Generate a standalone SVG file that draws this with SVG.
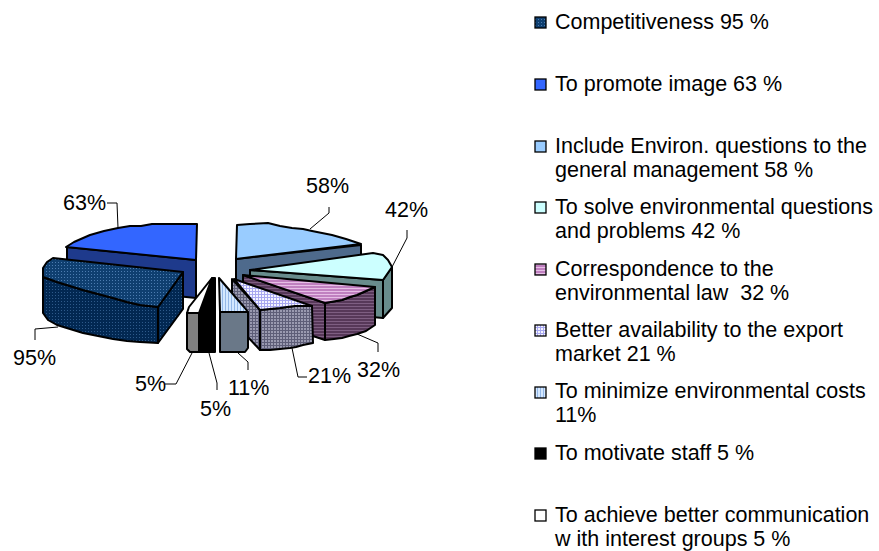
<svg xmlns="http://www.w3.org/2000/svg" width="879" height="551" viewBox="0 0 879 551">
<style>
text{font-family:"Liberation Sans",Arial,sans-serif;font-size:21.5px;fill:#000;white-space:pre}
.s{stroke:#000;stroke-width:2;stroke-linejoin:round}
.l{fill:none;stroke:#000;stroke-width:1}
.k{stroke:#000;stroke-width:1.3}
</style>
<defs>
<pattern id="dotT" width="3" height="3" patternUnits="userSpaceOnUse"><rect width="3" height="3" fill="#0F3F70"/><rect x="1" y="1" width="1" height="1" fill="#4C7CB0"/></pattern>
<pattern id="dotS" width="3" height="3" patternUnits="userSpaceOnUse"><rect width="3" height="3" fill="#022852"/><rect x="1" y="1" width="1" height="1" fill="#2E5A8A"/></pattern>
<pattern id="strT" width="3" height="3" patternUnits="userSpaceOnUse"><rect width="3" height="3" fill="#C080C0"/><rect y="0" width="3" height="1" fill="#E6BEE6"/></pattern>
<pattern id="strS" width="3" height="3" patternUnits="userSpaceOnUse"><rect width="3" height="3" fill="#573859"/><rect y="0" width="3" height="1" fill="#7E5E82"/></pattern>
<pattern id="grdT" width="3" height="3" patternUnits="userSpaceOnUse"><rect width="3" height="3" fill="#F4F4FF"/><rect width="3" height="1" fill="#A8A8F0"/><rect width="1" height="3" fill="#A8A8F0"/></pattern>
<pattern id="grdS" width="3" height="3" patternUnits="userSpaceOnUse"><rect width="3" height="3" fill="#9A9AB0"/><rect width="3" height="1" fill="#5E5E78"/><rect width="1" height="3" fill="#5E5E78"/></pattern>
<pattern id="vstT" width="3" height="3" patternUnits="userSpaceOnUse"><rect width="3" height="3" fill="#D4E8FF"/><rect width="1" height="3" fill="#94B8E8"/></pattern>
</defs>

<g id="slice-63">
<path class="s" fill="#1E3A8C" d="M67,247 L196,260 L196,298 L67,285 Z"/>
<path class="s" fill="#3366FF" d="M66,247 L74,242 L90,235 L104,231 L118,228 L130,226 L141,226 L152,224 L163,224 L197,224 L196,260 Z"/>
</g>

<g id="slice-58">
<path class="s" fill="#4E6A8C" d="M236,259 L361,245 L361,283 L236,292 Z"/>
<path class="s" fill="#99CCFF" d="M237,225 L250,224 L268,223 L280,226 L292,228 L303,229 L312,231 L322,233 L332,235 L346,239 L361,244 L236,259 Z"/>
</g>

<g id="slice-42">
<path class="s" fill="#688C8C" d="M250,270 L383,280 L383,318 L250,306 Z"/>
<path class="s" fill="#688C8C" d="M383,280 L392,267 L392,308 L383,318 Z"/>
<path class="s" fill="#CCFFFF" d="M250,270 L373,253 L383,255 L388,260 L392,267 L383,280 Z"/>
</g>

<g id="slice-32">
<path class="s" fill="url(#strS)" d="M243,275 L325,303 L325,340 L243,313 Z"/>
<path class="s" fill="url(#strS)" d="M325,303 L342,300 L350,297 L357,295 L366,291 L375,287 L375,325 L366,331 L357,334 L349,336 L342,338 L334,339 L325,340 Z"/>
<path class="s" fill="url(#strT)" d="M243,275 L375,287 L366,291 L357,295 L350,297 L342,300 L325,303 Z"/>
</g>

<g id="slice-21">
<path class="s" fill="url(#grdS)" d="M232,279 L260,310 L260,350 L232,320 Z"/>
<path class="s" fill="url(#grdS)" d="M260,310 L270,309 L280,308 L287,307 L295,306 L303,306 L312,306 L313,343 L303,345 L296,347 L290,348 L280,349 L270,350 L260,350 Z"/>
<path class="s" fill="url(#grdT)" d="M234,279 L312,306 L303,306 L295,306 L287,307 L280,308 L270,309 L260,310 Z"/>
</g>

<g id="slice-11">
<path class="s" fill="#6A7888" d="M220,312 L248,312 L248,348 L245,352 L220,352 Z"/>
<path class="s" fill="url(#vstT)" d="M219,278 L244,307 L248,312 L220,312 Z"/>
</g>

<g id="slice-5-staff">
<path class="s" fill="#000" d="M199,313 L212,278 L215,278 L215,352 L199,352 Z"/>
</g>

<g id="slice-5-comm">
<path class="s" fill="#808080" d="M187,313 L199,313 L199,352 L190,352 L187,349 Z"/>
<path class="s" fill="#FFFFFF" d="M187,313 L189,307 L212,278 L199,313 Z"/>
</g>

<g id="slice-95">
<path class="s" fill="url(#dotS)" d="M43,277 L57,282 L70,286 L83,290 L98,294 L113,298 L127,302 L140,305 L158,307 L158,343 L140,342 L127,341 L113,339 L98,336 L83,333 L70,329 L57,325 L48,320 L43,313 Z"/>
<path class="s" fill="url(#dotS)" d="M158,307 L183,272 L183,309 L158,343 Z"/>
<path class="s" fill="url(#dotT)" d="M43,268 L47,262 L53,258 L183,272 L158,307 L140,305 L127,302 L113,298 L98,294 L83,290 L70,286 L57,282 L43,277 Z"/>
</g>

<g id="connectors">
<polyline class="l" points="107,203 117,203 118,228"/>
<polyline class="l" points="35,340 35,329 58,327"/>
<polyline class="l" points="329,207 329,213 310,229"/>
<polyline class="l" points="407,230 407,238 392,267"/>
<polyline class="l" points="378,352 378,343 357,334"/>
<polyline class="l" points="307,377 298,377 292,348"/>
<polyline class="l" points="248,370 248,362 238,353"/>
<polyline class="l" points="217,390 217,383 209,353"/>
<polyline class="l" points="165,384 176,384 192,353"/>
</g>

<g id="labels">
<text x="63" y="210">63%</text>
<text x="13" y="365">95%</text>
<text x="306" y="193">58%</text>
<text x="385" y="217">42%</text>
<text x="357" y="377">32%</text>
<text x="308" y="383">21%</text>
<text x="228" y="395">11%</text>
<text x="200" y="416">5%</text>
<text x="135" y="391">5%</text>
</g>

<g id="legend">
<rect class="k" x="535" y="17" width="11" height="11" fill="url(#dotT)"/>
<text x="555" y="29">Competitiveness 95 %</text>
<rect class="k" x="535" y="79" width="11" height="11" fill="#3366FF"/>
<text x="555" y="91">To promote image 63 %</text>
<rect class="k" x="535" y="141" width="11" height="11" fill="#99CCFF"/>
<text x="555" y="153">Include Environ. questions to the</text>
<text x="555" y="177">general management 58 %</text>
<rect class="k" x="535" y="202" width="11" height="11" fill="#CCFFFF"/>
<text x="555" y="214">To solve environmental questions</text>
<text x="555" y="238">and problems 42 %</text>
<rect class="k" x="535" y="264" width="11" height="11" fill="url(#strT)"/>
<text x="555" y="276">Correspondence to the</text>
<text x="555" y="300">environmental law  32 %</text>
<rect class="k" x="535" y="325" width="11" height="11" fill="url(#grdT)"/>
<text x="555" y="337">Better availability to the export</text>
<text x="555" y="361">market 21 %</text>
<rect class="k" x="535" y="387" width="11" height="11" fill="url(#vstT)"/>
<text x="555" y="398">To minimize environmental costs</text>
<text x="555" y="422">11%</text>
<rect class="k" x="535" y="448" width="11" height="11" fill="#000"/>
<text x="555" y="460">To motivate staff 5 %</text>
<rect class="k" x="535" y="510" width="11" height="11" fill="#FFFFFF"/>
<text x="555" y="522">To achieve better communication</text>
<text x="555" y="546">w ith interest groups 5 %</text>
</g>
</svg>
